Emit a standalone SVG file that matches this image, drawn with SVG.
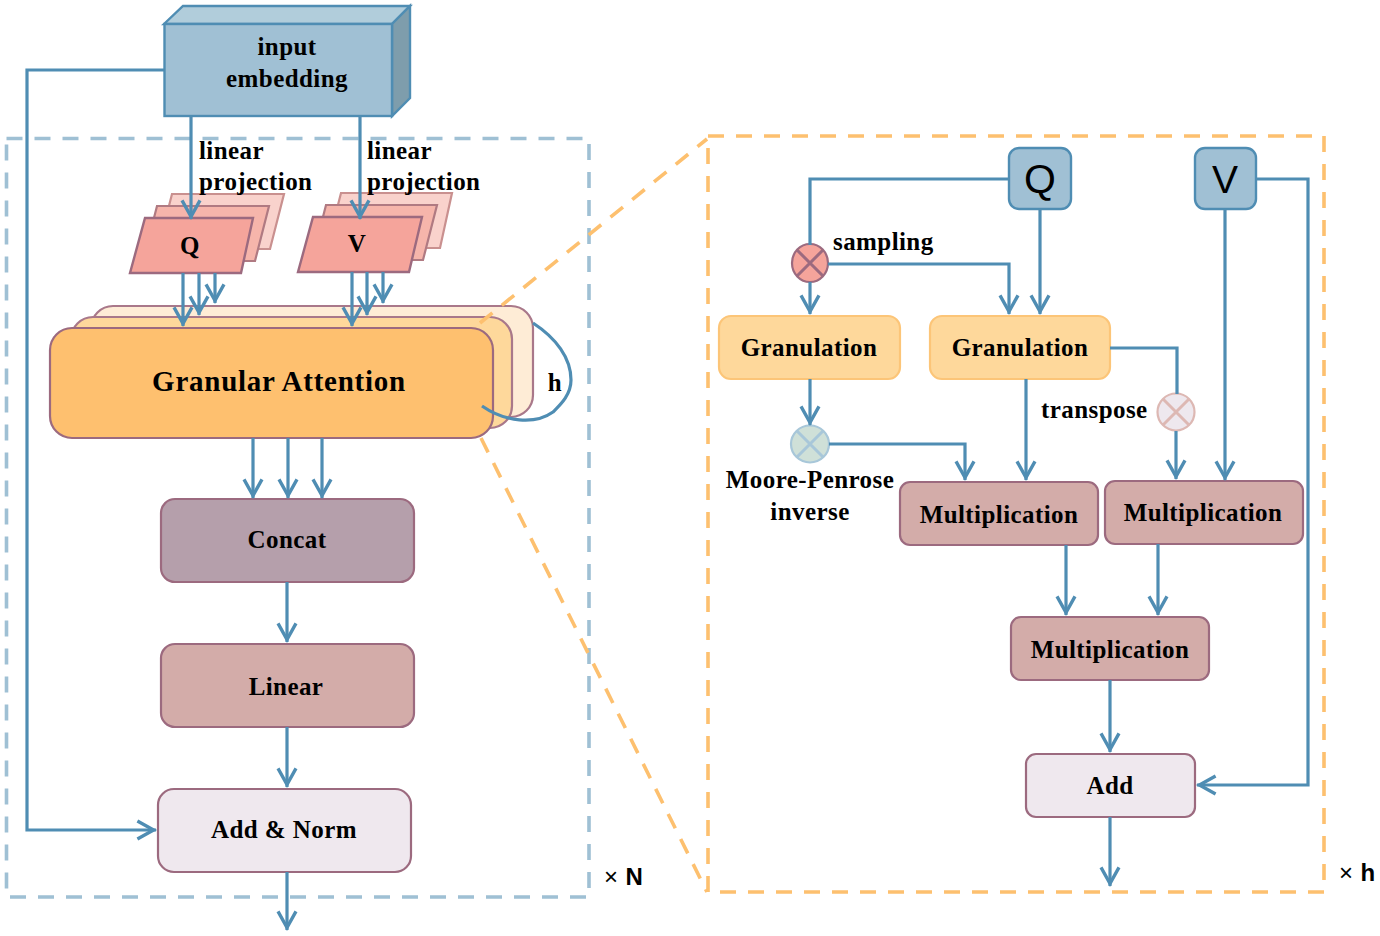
<svg xmlns="http://www.w3.org/2000/svg" width="1380" height="936" viewBox="0 0 1380 936">
<style>
text{font-family:"Liberation Serif","Times New Roman",serif;font-weight:700;fill:#000;font-size:25px;letter-spacing:.42px}
.m{text-anchor:middle}
.sans{font-family:"Liberation Sans",Arial,sans-serif}
.line{fill:none;stroke:#4f8db3;stroke-width:3.2}
.arr{marker-end:url(#a)}
.n{stroke:#9c6a7f;stroke-width:2.2}
.p3{fill:#f9d2cc;stroke:#c9908f;stroke-width:2.2}
.p2{fill:#f6b5ab;stroke:#b07a82;stroke-width:2.2}
.p1{fill:#f5a49b;stroke:#9c6a7f;stroke-width:2.4}
.b{fill:#a0c0d4;stroke:#4f8db3;stroke-width:2.4}
.g{fill:#fed89b;stroke:#fcc578;stroke-width:2.2}
.mu{fill:#d3aca9}
.dash{fill:none;stroke-width:3.6;stroke-dasharray:16 12}
</style>
<defs>
<marker id="a" markerUnits="userSpaceOnUse" markerWidth="24" markerHeight="24" refX="17" refY="10" orient="auto" viewBox="0 0 20 20">
<path d="M1.500 2.500L15 10L1.500 17.500" fill="none" stroke="#4f8db3" stroke-width="2.800"/>
</marker>
</defs>
<g id="frame-N"><rect x="6.500" y="138.500" width="582.500" height="758.500" class="dash" stroke="#9fc0d4"/></g>
<g id="input-embedding">
<polygon points="164,24 183,6 410,6 392,24" fill="#b1cddb" stroke="#4f8db3" stroke-width="2.400"/>
<polygon points="392,24 410,6 410,98 392,116" fill="#7e9dac" stroke="#4f8db3" stroke-width="2.400"/>
<rect x="164.500" y="24" width="227.500" height="92" class="b"/>
<text x="287" y="55" class="m">input</text>
<text x="287" y="87" class="m">embedding</text>
</g>
<g id="q-stack">
<polygon points="172,194 284,194 270,249 158,249" class="p3"/>
<polygon points="157,206 269,206 255,261 143,261" class="p2"/>
<polygon points="145,218 253,218 241,273 130,273" class="p1"/>
<text x="190" y="254" class="m">Q</text>
</g>
<g id="v-stack">
<polygon points="341,193 452,193 440,248 327,248" class="p3"/>
<polygon points="326,205 437,205 423,260 312,260" class="p2"/>
<polygon points="313,217 422,217 409,272 298,272" class="p1"/>
<text x="357" y="252" class="m">V</text>
</g>
<g id="granular-attention">
<rect x="91" y="306" width="442" height="111" rx="22" fill="#feecd6" stroke="#a9788a" stroke-width="2.200"/>
<rect x="71" y="317" width="441" height="111" rx="22" fill="#fed89b" stroke="#a9788a" stroke-width="2.200"/>
<rect x="50" y="328" width="443" height="110" rx="22" fill="#fec06f" stroke="#9c6a7f" stroke-width="2.200"/>
<text x="279" y="391" class="m" style="font-size:29px;letter-spacing:.75px">Granular Attention</text>
</g>
<g id="concat"><rect x="161" y="499" width="253" height="83" rx="14" fill="#b59fab" class="n"/><text x="287" y="548" class="m">Concat</text></g>
<g id="linear"><rect x="161" y="644" width="253" height="83" rx="14" fill="#d3aca9" class="n"/><text x="286" y="695" class="m">Linear</text></g>
<g id="add-norm"><rect x="158" y="789" width="253" height="83" rx="16" fill="#efe8ee" class="n"/><text x="284" y="838" class="m">Add &amp; Norm</text></g>
<g id="r-q"><rect x="1009" y="148" width="62" height="61" rx="10" class="b"/><text x="1040" y="193" class="m sans" style="font-size:41px;font-weight:400;letter-spacing:0">Q</text></g>
<g id="r-v"><rect x="1195" y="148" width="61" height="61" rx="10" class="b"/><text x="1225" y="193" class="m sans" style="font-size:39px;font-weight:400;letter-spacing:0">V</text></g>
<g id="sampling"><ellipse cx="810" cy="263" rx="18" ry="19" fill="#f5a49b" stroke="#9c6a7f" stroke-width="2.200"/><path d="M797 250L823 276M823 250L797 276" stroke="#9c6a7f" stroke-width="3" fill="none"/></g>
<g id="pinv"><ellipse cx="810" cy="444" rx="19" ry="18.500" fill="#cfe0d8" stroke="#a8c7d9" stroke-width="2.200"/><path d="M797 431L823 457M823 431L797 457" stroke="#a8c7d9" stroke-width="3" fill="none"/></g>
<g id="transpose"><ellipse cx="1176" cy="412" rx="18.500" ry="18.500" fill="#eee8ee" stroke="#ddb8b3" stroke-width="2.200"/><path d="M1163 399L1189 425M1189 399L1163 425" stroke="#ddb8b3" stroke-width="3" fill="none"/></g>
<g id="gran-1"><rect x="719" y="316" width="181" height="63" rx="12" class="g"/><text x="809" y="356" class="m">Granulation</text></g>
<g id="gran-2"><rect x="930" y="316" width="180" height="63" rx="12" class="g"/><text x="1020" y="356" class="m">Granulation</text></g>
<g id="mul-1"><rect x="900" y="482" width="198" height="63" rx="10" class="n mu"/><text x="999" y="523" class="m">Multiplication</text></g>
<g id="mul-2"><rect x="1105" y="481" width="198" height="63" rx="10" class="n mu"/><text x="1203" y="521" class="m">Multiplication</text></g>
<g id="mul-3"><rect x="1011" y="617" width="198" height="63" rx="10" class="n mu"/><text x="1110" y="658" class="m">Multiplication</text></g>
<g id="r-add"><rect x="1026" y="754" width="169" height="63" rx="10" fill="#efe8ee" class="n"/><text x="1110" y="794" class="m">Add</text></g>
<g id="frame-h"><rect x="708" y="136" width="616" height="756" class="dash" stroke="#fdc06f"/></g>
<g id="connectors">
<path class="dash" stroke="#fdc06f" d="M480 323L707 139M481 438L707 892"/>
<g class="line">
<path d="M164 70H27V830H156" class="arr"/>
<path d="M191 116V219" class="arr"/><path d="M360 116V219" class="arr"/>
<path d="M183 273V326" class="arr"/><path d="M199 273V315" class="arr"/><path d="M215 273V303" class="arr"/>
<path d="M352 272V326" class="arr"/><path d="M367 272V315" class="arr"/><path d="M383 272V303" class="arr"/>
<path d="M533 323C556 338 571 358 571 380C571 395 560 405 553 412C535 425 505 422 482 406"/>
<path d="M253 438V498" class="arr"/><path d="M288 438V498" class="arr"/><path d="M322 438V498" class="arr"/>
<path d="M287 582V642" class="arr"/><path d="M287 727V787" class="arr"/><path d="M287 872V930" class="arr"/>
<path d="M1009 179H810V245"/>
<path d="M828 264H1009V314" class="arr"/>
<path d="M1040 209V314" class="arr"/>
<path d="M810 282V314" class="arr"/>
<path d="M810 379V425" class="arr"/>
<path d="M829 444H965V480" class="arr"/>
<path d="M1026 379V480" class="arr"/>
<path d="M1110 348H1177V394"/>
<path d="M1176 431V479" class="arr"/>
<path d="M1225 209V480" class="arr"/>
<path d="M1256 179H1308V785H1197" class="arr"/>
<path d="M1066 545V615" class="arr"/><path d="M1158 544V615" class="arr"/>
<path d="M1110 680V752" class="arr"/><path d="M1110 817V886" class="arr"/>
</g>
</g>
<g id="labels">
<text x="199" y="159">linear</text><text x="199" y="190">projection</text>
<text x="367" y="159">linear</text><text x="367" y="190">projection</text>
<text x="555" y="391" class="m">h</text>
<text x="833" y="250">sampling</text>
<text x="1041" y="418">transpose</text>
<text x="810" y="488" class="m">Moore-Penrose</text>
<text x="810" y="520" class="m">inverse</text>
<text x="604" y="885" class="sans" style="font-size:24px"><tspan style="font-weight:400">×</tspan> N</text>
<text x="1339" y="881" class="sans" style="font-size:24px"><tspan style="font-weight:400">×</tspan> h</text>
</g>
</svg>
